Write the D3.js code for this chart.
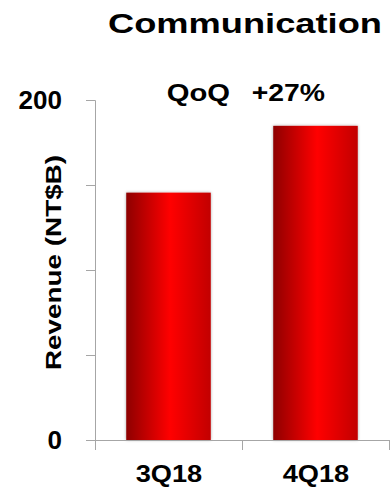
<!DOCTYPE html>
<html>
<head>
<meta charset="utf-8">
<script src="https://cdn.jsdelivr.net/npm/d3@7"></script>
<style>
  html, body { margin: 0; padding: 0; background: #ffffff; }
  svg { display: block; }
  text { font-family: "Liberation Sans", Arial, sans-serif; font-weight: bold; fill: #000; }
</style>
</head>
<body>
<script>
// Quarterly communication revenue, NT$ billions
const quarters = ["3Q18", "4Q18"];
const revenue = [145.5, 184.8];
const yTicks = [0, 50, 100, 150, 200];
const yTickLabels = ["0", "", "", "", "200"];
const titleText = "Communication";
const growthLabel = ["QoQ", "+27%"];
const yAxisTitle = "Revenue (NT$B)";

const W = 390, H = 487;
const svg = d3.select("body").append("svg").attr("width", W).attr("height", H);

const defs = svg.append("defs");
const grad = defs.append("linearGradient").attr("id", "barFill")
  .attr("x1", "0%").attr("x2", "100%").attr("y1", "0%").attr("y2", "0%");
grad.append("stop").attr("offset", "0%").attr("stop-color", "#8e0000");
grad.append("stop").attr("offset", "52%").attr("stop-color", "#ff0000");
grad.append("stop").attr("offset", "100%").attr("stop-color", "#c20000");

const shadow = defs.append("filter").attr("id", "barShadow")
  .attr("x", "-20%").attr("y", "-20%").attr("width", "140%").attr("height", "140%");
shadow.append("feDropShadow").attr("dx", 0).attr("dy", 0).attr("stdDeviation", 1.5)
  .attr("flood-color", "#000").attr("flood-opacity", 0.35);

const plot = { left: 95, right: 389, top: 100, bottom: 440 };

const x = d3.scaleBand().domain(quarters).range([plot.left, plot.right])
  .paddingInner(0).paddingOuter(0);
const y = d3.scaleLinear().domain([0, 200]).range([plot.bottom, plot.top]);

const barW = x.bandwidth() * 0.575;

// Bars
svg.append("g").selectAll("rect").data(quarters).join("rect")
  .attr("x", d => x(d) + (x.bandwidth() - barW) / 2)
  .attr("width", barW)
  .attr("y", (d, i) => y(revenue[i]))
  .attr("height", (d, i) => y(0) - y(revenue[i]))
  .attr("fill", "url(#barFill)")
  .attr("filter", "url(#barShadow)");

const axisColor = "#a6a6a6";

// Y axis
const yAxis = svg.append("g").attr("transform", `translate(${plot.left},0)`)
  .call(d3.axisLeft(y).tickValues(yTicks).tickSize(9).tickFormat(() => ""));
yAxis.select(".domain").attr("stroke", axisColor);
yAxis.selectAll(".tick line").attr("stroke", axisColor);

// Y tick labels (only the ends are labelled)
svg.append("g").selectAll("text").data(yTicks).join("text")
  .attr("x", 62)
  .attr("y", d => y(d))
  .attr("dy", "0.36em")
  .attr("text-anchor", "end")
  .style("font-size", "26px")
  .text((d, i) => yTickLabels[i]);

// X axis with ticks at category boundaries
const xAxis = svg.append("g").attr("transform", `translate(0,${plot.bottom})`);
xAxis.append("line").attr("x1", plot.left).attr("x2", plot.right)
  .attr("y1", 0.5).attr("y2", 0.5).attr("stroke", axisColor);
const bounds = quarters.map(q => x(q)).concat([x(quarters[quarters.length - 1]) + x.bandwidth()]);
xAxis.selectAll("line.tk").data(bounds).join("line").attr("class", "tk")
  .attr("x1", d => d + 0.5).attr("x2", d => d + 0.5)
  .attr("y1", 0).attr("y2", 10).attr("stroke", axisColor);

// Category labels
svg.append("g").selectAll("text").data(quarters).join("text")
  .attr("x", d => x(d) + x.bandwidth() / 2 + 0.5)
  .attr("y", 481.5)
  .attr("text-anchor", "middle")
  .attr("textLength", 66.5)
  .attr("lengthAdjust", "spacingAndGlyphs")
  .style("font-size", "24px")
  .text(d => d);

// Title
svg.append("text")
  .attr("x", 108).attr("y", 33.3)
  .attr("textLength", 274)
  .attr("lengthAdjust", "spacingAndGlyphs")
  .style("font-size", "27px")
  .text(titleText);

// Growth annotation
svg.append("text")
  .attr("x", 166.7).attr("y", 100.7)
  .attr("textLength", 63.3)
  .attr("lengthAdjust", "spacingAndGlyphs")
  .style("font-size", "23.5px")
  .text(growthLabel[0]);
svg.append("text")
  .attr("x", 251.7).attr("y", 100.7)
  .attr("textLength", 73.3)
  .attr("lengthAdjust", "spacingAndGlyphs")
  .style("font-size", "23.5px")
  .text(growthLabel[1]);

// Y axis title
svg.append("text")
  .attr("transform", "translate(60.5,262.5) rotate(-90)")
  .attr("text-anchor", "middle")
  .attr("textLength", 215)
  .attr("lengthAdjust", "spacingAndGlyphs")
  .style("font-size", "22px")
  .text(yAxisTitle);
</script>
</body>
</html>
